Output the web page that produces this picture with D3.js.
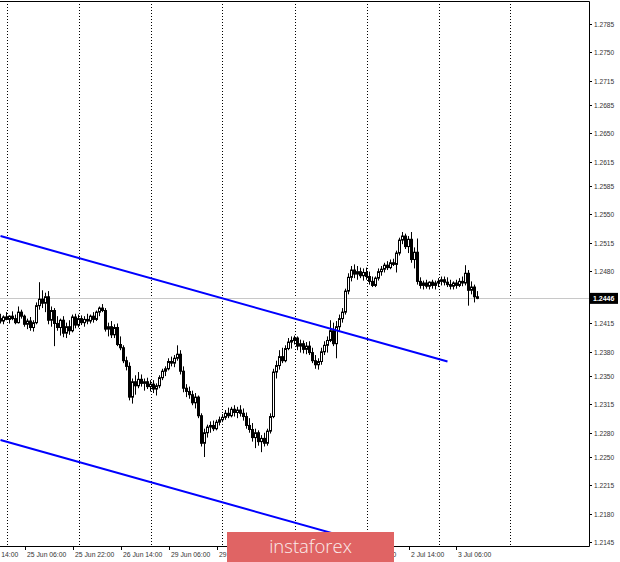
<!DOCTYPE html>
<html><head><meta charset="utf-8">
<script src="https://cdn.jsdelivr.net/npm/d3@7"></script>
<style>html,body{margin:0;padding:0;background:#fff;}svg{display:block;}</style>
</head><body>
<svg id="chart" width="620" height="562"></svg>
<script>
// ---- data ----
// hourly candles [open, high, low, close], bar 0 = 24 Jun 22:00
const ohlc = [
[1.2421,1.2427,1.2415,1.2418],[1.2418,1.2425,1.2414,1.2423],[1.2423,1.2429,1.2419,1.2420],[1.2420,1.2425,1.2415,1.2424],
[1.2424,1.2430,1.2419,1.2421],[1.2421,1.2426,1.2414,1.2416],[1.2416,1.2436,1.2415,1.2429],[1.2429,1.2432,1.2421,1.2424],
[1.2424,1.2426,1.2411,1.2414],[1.2414,1.2421,1.2408,1.2418],[1.2418,1.2423,1.2406,1.2410],[1.2410,1.2419,1.2405,1.2416],
[1.2416,1.2441,1.2414,1.2437],[1.2437,1.2466,1.2432,1.2445],[1.2445,1.2456,1.2434,1.2440],[1.2440,1.2453,1.2429,1.2448],
[1.2448,1.2455,1.2414,1.2419],[1.2419,1.2436,1.2411,1.2431],[1.2431,1.2434,1.2387,1.2415],[1.2415,1.2424,1.2406,1.2410],
[1.2410,1.2421,1.2400,1.2419],[1.2419,1.2424,1.2398,1.2403],[1.2403,1.2416,1.2397,1.2411],[1.2411,1.2419,1.2401,1.2406],
[1.2406,1.2426,1.2404,1.2423],[1.2423,1.2427,1.2409,1.2413],[1.2413,1.2426,1.2410,1.2421],[1.2421,1.2425,1.2413,1.2416],
[1.2416,1.2424,1.2411,1.2420],[1.2420,1.2427,1.2414,1.2418],[1.2418,1.2426,1.2415,1.2424],[1.2424,1.2429,1.2416,1.2420],
[1.2420,1.2431,1.2418,1.2429],[1.2429,1.2436,1.2424,1.2434],[1.2434,1.2439,1.2429,1.2431],[1.2431,1.2434,1.2405,1.2408],
[1.2408,1.2416,1.2399,1.2411],[1.2411,1.2418,1.2397,1.2401],[1.2401,1.2414,1.2397,1.2410],[1.2410,1.2415,1.2387,1.2389],
[1.2389,1.2399,1.2382,1.2385],[1.2385,1.2388,1.2366,1.2369],[1.2369,1.2374,1.2357,1.2362],[1.2362,1.2367,1.2320,1.2324],
[1.2324,1.2347,1.2316,1.2343],[1.2343,1.2351,1.2327,1.2338],[1.2338,1.2355,1.2335,1.2346],[1.2346,1.2352,1.2337,1.2341],
[1.2341,1.2347,1.2332,1.2343],[1.2343,1.2348,1.2334,1.2337],[1.2337,1.2345,1.2331,1.2340],[1.2340,1.2345,1.2329,1.2334],
[1.2334,1.2341,1.2326,1.2338],[1.2338,1.2351,1.2335,1.2348],[1.2348,1.2359,1.2345,1.2356],[1.2356,1.2362,1.2350,1.2359],
[1.2359,1.2372,1.2357,1.2368],[1.2368,1.2374,1.2362,1.2366],[1.2366,1.2376,1.2361,1.2372],[1.2372,1.2388,1.2369,1.2377],
[1.2377,1.2382,1.2352,1.2356],[1.2356,1.2362,1.2330,1.2335],[1.2335,1.2340,1.2324,1.2331],[1.2331,1.2337,1.2322,1.2327],
[1.2327,1.2332,1.2314,1.2317],[1.2317,1.2329,1.2310,1.2324],[1.2324,1.2326,1.2298,1.2301],[1.2301,1.2304,1.2263,1.2267],
[1.2267,1.2285,1.2250,1.2280],[1.2280,1.2290,1.2274,1.2287],[1.2287,1.2294,1.2280,1.2289],[1.2289,1.2295,1.2282,1.2285],
[1.2285,1.2296,1.2283,1.2293],[1.2293,1.2300,1.2289,1.2296],[1.2296,1.2303,1.2293,1.2299],[1.2299,1.2308,1.2296,1.2304],
[1.2304,1.2311,1.2298,1.2301],[1.2301,1.2312,1.2299,1.2309],[1.2309,1.2314,1.2300,1.2305],[1.2305,1.2312,1.2298,1.2308],
[1.2308,1.2314,1.2300,1.2304],[1.2304,1.2310,1.2295,1.2300],[1.2300,1.2305,1.2285,1.2289],[1.2289,1.2298,1.2280,1.2284],
[1.2284,1.2292,1.2269,1.2274],[1.2274,1.2285,1.2261,1.2280],[1.2280,1.2283,1.2264,1.2269],[1.2269,1.2277,1.2256,1.2273],
[1.2273,1.2280,1.2263,1.2267],[1.2267,1.2285,1.2264,1.2282],[1.2282,1.2304,1.2279,1.2300],[1.2300,1.2359,1.2298,1.2355],
[1.2355,1.2369,1.2347,1.2363],[1.2363,1.2382,1.2358,1.2374],[1.2374,1.2385,1.2366,1.2369],[1.2369,1.2388,1.2367,1.2384],
[1.2384,1.2397,1.2382,1.2392],[1.2392,1.2399,1.2384,1.2394],[1.2394,1.2400,1.2389,1.2397],[1.2397,1.2399,1.2382,1.2387],
[1.2387,1.2395,1.2379,1.2390],[1.2390,1.2394,1.2378,1.2383],[1.2383,1.2392,1.2377,1.2387],[1.2387,1.2393,1.2376,1.2379],
[1.2379,1.2385,1.2366,1.2369],[1.2369,1.2376,1.2359,1.2364],[1.2364,1.2372,1.2358,1.2368],[1.2368,1.2385,1.2364,1.2380],
[1.2380,1.2393,1.2376,1.2388],[1.2388,1.2399,1.2379,1.2394],[1.2394,1.2419,1.2392,1.2406],[1.2406,1.2416,1.2387,1.2390],
[1.2390,1.2418,1.2372,1.2411],[1.2411,1.2426,1.2406,1.2421],[1.2421,1.2434,1.2416,1.2429],[1.2429,1.2458,1.2426,1.2455],
[1.2455,1.2477,1.2451,1.2472],[1.2472,1.2486,1.2467,1.2481],[1.2481,1.2488,1.2471,1.2476],[1.2476,1.2486,1.2469,1.2479],
[1.2479,1.2484,1.2471,1.2474],[1.2474,1.2483,1.2468,1.2478],[1.2478,1.2484,1.2469,1.2473],[1.2473,1.2479,1.2463,1.2467],
[1.2467,1.2473,1.2460,1.2462],[1.2462,1.2473,1.2460,1.2471],[1.2471,1.2483,1.2468,1.2479],[1.2479,1.2486,1.2474,1.2482],
[1.2482,1.2490,1.2478,1.2487],[1.2487,1.2492,1.2481,1.2484],[1.2484,1.2494,1.2482,1.2490],[1.2490,1.2495,1.2486,1.2488],
[1.2488,1.2505,1.2478,1.2502],[1.2502,1.2521,1.2499,1.2518],[1.2518,1.2528,1.2513,1.2523],[1.2523,1.2526,1.2507,1.2510],
[1.2510,1.2523,1.2502,1.2519],[1.2519,1.2528,1.2490,1.2494],[1.2494,1.2509,1.2483,1.2503],[1.2503,1.2520,1.2463,1.2467],
[1.2467,1.2472,1.2458,1.2462],[1.2462,1.2468,1.2457,1.2465],[1.2465,1.2469,1.2458,1.2461],[1.2461,1.2467,1.2457,1.2466],
[1.2466,1.2469,1.2458,1.2462],[1.2462,1.2468,1.2457,1.2465],[1.2465,1.2471,1.2460,1.2467],[1.2467,1.2473,1.2462,1.2469],
[1.2469,1.2473,1.2462,1.2466],[1.2466,1.2472,1.2460,1.2463],[1.2463,1.2469,1.2457,1.2461],[1.2461,1.2467,1.2457,1.2465],
[1.2465,1.2469,1.2458,1.2462],[1.2462,1.2471,1.2460,1.2467],[1.2467,1.2473,1.2461,1.2465],[1.2465,1.2487,1.2462,1.2477],
[1.2477,1.2481,1.2437,1.2456],[1.2456,1.2467,1.2451,1.2460],[1.2460,1.2463,1.2441,1.2448],[1.2448,1.2455,1.2445,1.2446]
];
const yTickLabels = ["1.2785","1.2750","1.2715","1.2685","1.2650","1.2615","1.2585","1.2550","1.2515","1.2480",
  "1.2415","1.2380","1.2350","1.2315","1.2280","1.2250","1.2215","1.2180","1.2145"];
const currentPrice = 1.2446;
const timeLabels = ["24 Jun 14:00","25 Jun 06:00","25 Jun 22:00","26 Jun 14:00","29 Jun 06:00","29 Jun 22:00",
  "30 Jun 14:00","1 Jul 06:00","1 Jul 22:00","2 Jul 14:00","3 Jul 06:00"];
const timeLabelBars = [-8, 8, 24, 40, 56, 72, 88, 104, 120, 136, 152];
const dayStartBars = [2, 26, 50, 74, 98, 122, 146, 170]; // 00:00 of each trading day
const upperChannel = [[0, 1.2523], [149, 1.2368]];
const lowerChannel = [[0, 1.2271], [149, 1.2116]];
const watermarkText = "instaforex";

// ---- layout ----
const W = 620, H = 562;
const plotRight = 589, plotTop = 1, plotBottom = 546;
const svg = d3.select("#chart");

const x = d3.scaleLinear().domain([0, 196]).range([0.5, 588.5]);
const y = d3.scaleLinear().domain([1.2145, 1.2785]).range([542, 24]);

svg.append("defs").append("clipPath").attr("id", "plotclip")
  .append("rect").attr("x", 0).attr("y", plotTop).attr("width", plotRight).attr("height", plotBottom - plotTop);

const plot = svg.append("g").attr("clip-path", "url(#plotclip)");

// day separators (dotted)
plot.selectAll("line.grid").data(dayStartBars).join("line")
  .attr("class", "grid")
  .attr("x1", d => Math.round(x(d)) + 0.5).attr("x2", d => Math.round(x(d)) + 0.5)
  .attr("y1", plotTop).attr("y2", plotBottom)
  .attr("stroke", "#000").attr("stroke-width", 1).attr("stroke-dasharray", "1,2");

// current price line
plot.append("line")
  .attr("x1", 0).attr("x2", plotRight)
  .attr("y1", Math.round(y(currentPrice)) + 0.5).attr("y2", Math.round(y(currentPrice)) + 0.5)
  .attr("stroke", "#c8c8c8").attr("stroke-width", 1);

// candles
const cg = plot.append("g");
const candle = cg.selectAll("g.c").data(ohlc).join("g").attr("class", "c");
candle.append("line")
  .attr("x1", (d, i) => x(i)).attr("x2", (d, i) => x(i))
  .attr("y1", d => y(d[1])).attr("y2", d => y(d[2]))
  .attr("stroke", "#000").attr("stroke-width", 1);
candle.append("rect")
  .attr("x", (d, i) => x(i) - 1)
  .attr("width", 2)
  .attr("y", d => y(Math.max(d[0], d[3])))
  .attr("height", d => Math.max(0.8, Math.abs(y(d[0]) - y(d[3]))))
  .attr("fill", d => d[3] >= d[0] ? "#fff" : "#000")
  .attr("stroke", "#000").attr("stroke-width", 1);

// channel lines
const line = d3.line().x(d => x(d[0])).y(d => y(d[1]));
[upperChannel, lowerChannel].forEach(seg => {
  plot.append("path").datum(seg).attr("d", line)
    .attr("fill", "none").attr("stroke", "#0000ff").attr("stroke-width", 2);
});

// frame
svg.append("path")
  .attr("d", `M0,${plotTop + 0.5}H${plotRight + 0.5}V${plotBottom + 0.5}H0`)
  .attr("fill", "none").attr("stroke", "#000").attr("stroke-width", 1);

// y axis ticks & labels
const yAx = svg.append("g").attr("font-family", "Liberation Sans, Arial, sans-serif").attr("font-size", 6.6).attr("fill", "#333");
yTickLabels.forEach(t => {
  const v = +t, yy = Math.round(y(v)) + 0.5;
  yAx.append("line").attr("x1", plotRight).attr("x2", plotRight + 3).attr("y1", yy).attr("y2", yy).attr("stroke", "#000");
  yAx.append("text").attr("x", plotRight + 5).attr("y", yy).attr("dy", "0.35em").text(t);
});
// current price tag
const cy = y(currentPrice);
svg.append("rect").attr("x", plotRight + 1).attr("y", cy - 5.5).attr("width", 28).attr("height", 11).attr("fill", "#000");
svg.append("text").attr("x", plotRight + 4).attr("y", cy).attr("dy", "0.35em")
  .attr("font-family", "Liberation Sans, Arial, sans-serif").attr("font-size", 7).attr("font-weight", "bold")
  .attr("fill", "#fff").text(currentPrice.toFixed(4));

// x axis ticks & labels
const xAx = svg.append("g").attr("font-family", "Liberation Sans, Arial, sans-serif").attr("font-size", 6.8).attr("fill", "#333");
timeLabels.forEach((t, k) => {
  const xx = Math.round(x(timeLabelBars[k])) + 0.5;
  xAx.append("line").attr("x1", xx).attr("x2", xx).attr("y1", plotBottom).attr("y2", plotBottom + 4).attr("stroke", "#000");
  xAx.append("text").attr("x", xx + 1.5).attr("y", 557).text(t);
});

// watermark
svg.append("rect").attr("x", 227).attr("y", 532).attr("width", 167).attr("height", 30).attr("fill", "#e06464");
svg.append("text").attr("x", 310.5).attr("y", 553).attr("text-anchor", "middle")
  .attr("font-family", "Open Sans, Lato, sans-serif").attr("font-size", 18.5).attr("font-weight", 300)
  .attr("fill", "#fbecec").text(watermarkText);
</script>
</body></html>
